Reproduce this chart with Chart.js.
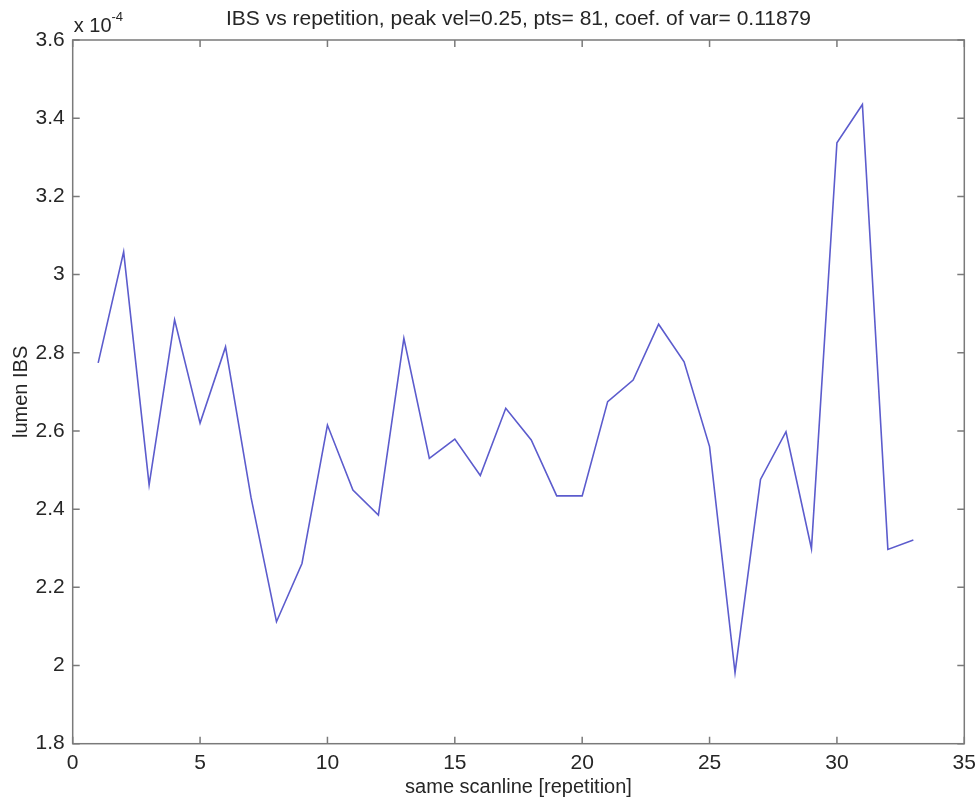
<!DOCTYPE html>
<html>
<head>
<meta charset="utf-8">
<script src="https://cdn.jsdelivr.net/npm/chart.js@4/dist/chart.umd.min.js"></script>
<style>
  html, body { margin: 0; padding: 0; background: #ffffff; }
  #wrap { width: 977px; height: 801px; }
</style>
</head>
<body>
<div id="wrap"><canvas id="c" width="977" height="801"></canvas></div>
<script>
// Repetition index along the scanline
const repetitions = [1, 2, 3, 4, 5, 6, 7, 8, 9, 10, 11, 12, 13, 14, 15, 16, 17,
                     18, 19, 20, 21, 22, 23, 24, 25, 26, 27, 28, 29, 30, 31, 32, 33];
// Lumen IBS values (in units of 1e-4)
const lumenIBS = [2.774, 3.058, 2.462, 2.884, 2.620, 2.815, 2.43, 2.112, 2.261, 2.615,
                  2.449, 2.385, 2.837, 2.530, 2.579, 2.486, 2.658, 2.577, 2.434, 2.434,
                  2.675, 2.730, 2.873, 2.777, 2.560, 1.982, 2.476, 2.598, 2.299, 3.337,
                  3.435, 2.297, 2.321];
// Axis ticks
const xTicks = [0, 5, 10, 15, 20, 25, 30, 35];
const yTicks = [1.8, 2.0, 2.2, 2.4, 2.6, 2.8, 3.0, 3.2, 3.4, 3.6];

const titleText = 'IBS vs repetition, peak vel=0.25, pts= 81, coef. of var= 0.11879';
const FONT = '"Liberation Sans", Arial, Helvetica, sans-serif';
const axisColor = '#7a7a7a';
const textColor = '#262626';

// Box, inward tick marks, title and exponent label
const framePlugin = {
  id: 'frame',
  afterDraw(chart) {
    const { ctx, chartArea: a, scales } = chart;
    ctx.save();
    ctx.strokeStyle = axisColor;
    ctx.lineWidth = 1.5;
    ctx.strokeRect(a.left, a.top, a.right - a.left, a.bottom - a.top);
    const tl = 7;
    ctx.beginPath();
    xTicks.forEach(v => {
      const px = scales.x.getPixelForValue(v);
      ctx.moveTo(px, a.bottom); ctx.lineTo(px, a.bottom - tl);
      ctx.moveTo(px, a.top); ctx.lineTo(px, a.top + tl);
    });
    yTicks.forEach(v => {
      const py = scales.y.getPixelForValue(v);
      ctx.moveTo(a.left, py); ctx.lineTo(a.left + tl, py);
      ctx.moveTo(a.right, py); ctx.lineTo(a.right - tl, py);
    });
    ctx.stroke();

    ctx.fillStyle = textColor;
    ctx.font = '21px ' + FONT;
    ctx.textAlign = 'center';
    ctx.textBaseline = 'alphabetic';
    ctx.fillText(titleText, (a.left + a.right) / 2, 25);

    ctx.textAlign = 'left';
    ctx.font = '20px ' + FONT;
    ctx.fillText('x 10', a.left + 1, 32);
    const w = ctx.measureText('x 10').width;
    ctx.font = '13px ' + FONT;
    ctx.fillText('-4', a.left + 1 + w, 21);
    ctx.restore();
  }
};

new Chart(document.getElementById('c'), {
  type: 'line',
  data: {
    datasets: [{
      data: repetitions.map((r, i) => ({ x: r, y: lumenIBS[i] })),
      borderColor: 'rgb(92, 92, 205)',
      borderWidth: 1.6,
      pointRadius: 0,
      tension: 0,
      fill: false
    }]
  },
  options: {
    responsive: false,
    animation: false,
    layout: { padding: { top: 40, right: 12.7, left: 0, bottom: 0 } },
    plugins: { legend: { display: false }, tooltip: { enabled: false }, title: { display: false } },
    scales: {
      x: {
        type: 'linear',
        min: 0, max: 35,
        afterBuildTicks: s => { s.ticks = xTicks.map(v => ({ value: v })); },
        afterFit: s => { s.height = 57.3; s.paddingLeft = 0; s.paddingRight = 0; },
        grid: { display: false, drawTicks: false },
        border: { display: false },
        ticks: {
          padding: 7,
          color: textColor,
          font: { family: FONT, size: 21 },
          callback: v => String(v)
        },
        title: {
          display: true,
          text: 'same scanline [repetition]',
          color: textColor,
          font: { family: FONT, size: 20 },
          padding: { top: 0, bottom: 2 }
        }
      },
      y: {
        type: 'linear',
        min: 1.8, max: 3.6,
        afterBuildTicks: s => { s.ticks = yTicks.map(v => ({ value: v })); },
        afterFit: s => { s.width = 72.7; s.paddingTop = 0; s.paddingBottom = 0; },
        grid: { display: false, drawTicks: false },
        border: { display: false },
        ticks: {
          padding: 8,
          color: textColor,
          font: { family: FONT, size: 21 },
          callback: v => String(Number(v.toFixed(1)))
        },
        title: {
          display: true,
          text: 'lumen IBS',
          color: textColor,
          font: { family: FONT, size: 20 },
          padding: { top: 9, bottom: 0 }
        }
      }
    }
  },
  plugins: [framePlugin]
});
</script>
</body>
</html>
